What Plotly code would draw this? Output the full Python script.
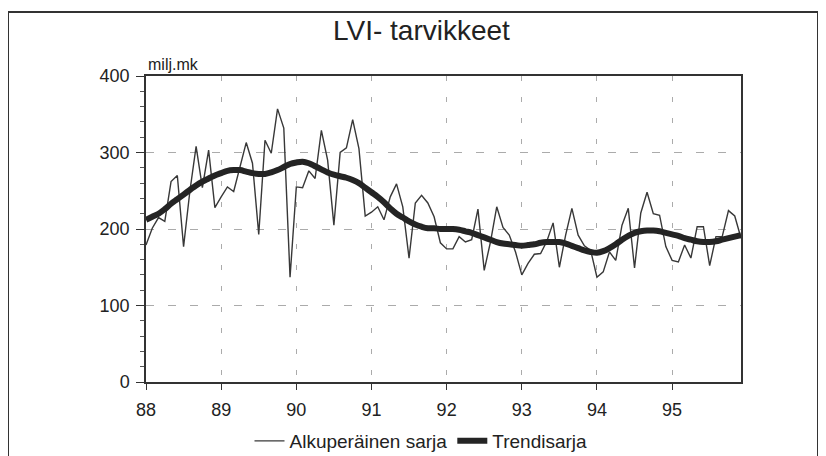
import plotly.graph_objects as go

years = [88, 89, 90, 91, 92, 93, 94, 95]
x_labels = ["88", "89", "90", "91", "92", "93", "94", "95"]

alkuperainen = [
    179, 201, 215, 210, 262, 270, 177, 249, 308, 254, 303, 228,   # 1988
    242, 255, 249, 281, 313, 286, 193, 316, 299, 357, 332, 137,   # 1989
    255, 254, 276, 266, 329, 290, 205, 300, 306, 343, 305, 217,   # 1990
    222, 229, 212, 242, 259, 229, 162, 234, 244, 234, 216, 182,   # 1991
    174, 174, 190, 183, 186, 226, 146, 183, 229, 202, 192, 170,   # 1992
    140, 155, 167, 168, 184, 208, 150, 192, 227, 192, 178, 172,   # 1993
    137, 144, 170, 159, 205, 227, 149, 221, 248, 220, 218, 177,   # 1994
    159, 157, 179, 162, 203, 203, 152, 190, 190, 224, 217, 188,   # 1995
]

trendi = [
    212, 216, 220, 226, 233, 239, 245, 251, 257, 262, 266, 270,
    273, 276, 277, 277, 275, 273, 272, 272, 274, 277, 281, 285,
    287, 288, 286, 282, 278, 274, 271, 269, 267, 264, 260, 254,
    248, 242, 235, 227, 220, 215, 210, 206, 203, 201, 201, 200,
    200, 200, 199, 197, 195, 192, 189, 186, 183, 181, 180, 179,
    178, 179, 180, 182, 183, 183, 183, 181, 178, 175, 172, 170,
    169, 171, 175, 180, 186, 191, 195, 197, 198, 198, 197, 195,
    193, 191, 188, 186, 184, 183, 183, 184, 186, 188, 190, 192,
]

months = [88 + i / 12 for i in range(len(alkuperainen))]

FONT = "Liberation Sans Narrow, Liberation Sans, Arial, sans-serif"

# page body has an 8px margin: work in figure coordinates = page - 8
OFF = 8
W, H = 826 - OFF, 456 - OFF
L, R, T, B = 146 - OFF, 741 - OFF, 76 - OFF, 382 - OFF
pw, ph = R - L, B - T


def px(xp):
    return (xp - OFF - L) / pw


def py(yp):
    return (B - (yp - OFF)) / ph


fig = go.Figure()
fig.add_trace(go.Scatter(
    x=months, y=alkuperainen, mode="lines", name="Alkuperäinen sarja",
    line=dict(color="#383838", width=1.4),
))
fig.add_trace(go.Scatter(
    x=months, y=trendi, mode="lines", name="Trendisarja",
    line=dict(color="#242424", width=6, shape="spline"),
))

fig.update_layout(
    width=W, height=H, autosize=False,
    margin=dict(l=L, r=W - R, t=T, b=H - B, pad=0, autoexpand=False),
    paper_bgcolor="white", plot_bgcolor="white",
    font=dict(family=FONT, size=17, color="#222"),
    showlegend=True,
    legend=dict(
        orientation="h", x=px(421), y=py(441), xanchor="center", yanchor="middle",
        font=dict(family=FONT, size=19, color="#222"),
        itemwidth=30, tracegroupgap=0, bgcolor="rgba(0,0,0,0)",
    ),
    xaxis=dict(
        range=[88, 88 + 95 / 12], tickvals=years, ticktext=x_labels,
        showline=True, linecolor="#333", linewidth=1.5, mirror=True,
        ticks="outside", ticklen=6, tickcolor="#333",
        ticklabelstandoff=5,
        showgrid=True, gridcolor="#ababab", griddash="5px,16px", gridwidth=1,
        zeroline=False, fixedrange=True,
        tickfont=dict(family=FONT, size=18, color="#222"),
    ),
    yaxis=dict(
        range=[0, 400], tickvals=[0, 100, 200, 300, 400],
        showline=True, linecolor="#333", linewidth=1.5, mirror=True,
        ticks="outside", ticklen=8, tickcolor="#333",
        ticklabelstandoff=3,
        minor=dict(dtick=20, ticks="outside", ticklen=4, tickcolor="#555", showgrid=False),
        showgrid=True, gridcolor="#ababab", griddash="8px,14px", gridwidth=1,
        zeroline=False, fixedrange=True,
        tickfont=dict(family=FONT, size=18, color="#222"),
    ),
    annotations=[
        dict(text="LVI- tarvikkeet", xref="paper", yref="paper",
             x=px(421), y=py(30), xanchor="center", yanchor="middle",
             showarrow=False, font=dict(family=FONT, size=28, color="#222")),
        dict(text="milj.mk", xref="paper", yref="paper",
             x=px(146), y=py(65), xanchor="left", yanchor="middle",
             showarrow=False, font=dict(family=FONT, size=16, color="#222")),
    ],
    shapes=[
        dict(type="rect", xref="paper", yref="paper",
             x0=px(8), x1=px(818), y0=py(475), y1=py(12),
             line=dict(color="#333", width=2), fillcolor="rgba(0,0,0,0)", layer="below"),
    ],
)

fig.write_html("out.html")
